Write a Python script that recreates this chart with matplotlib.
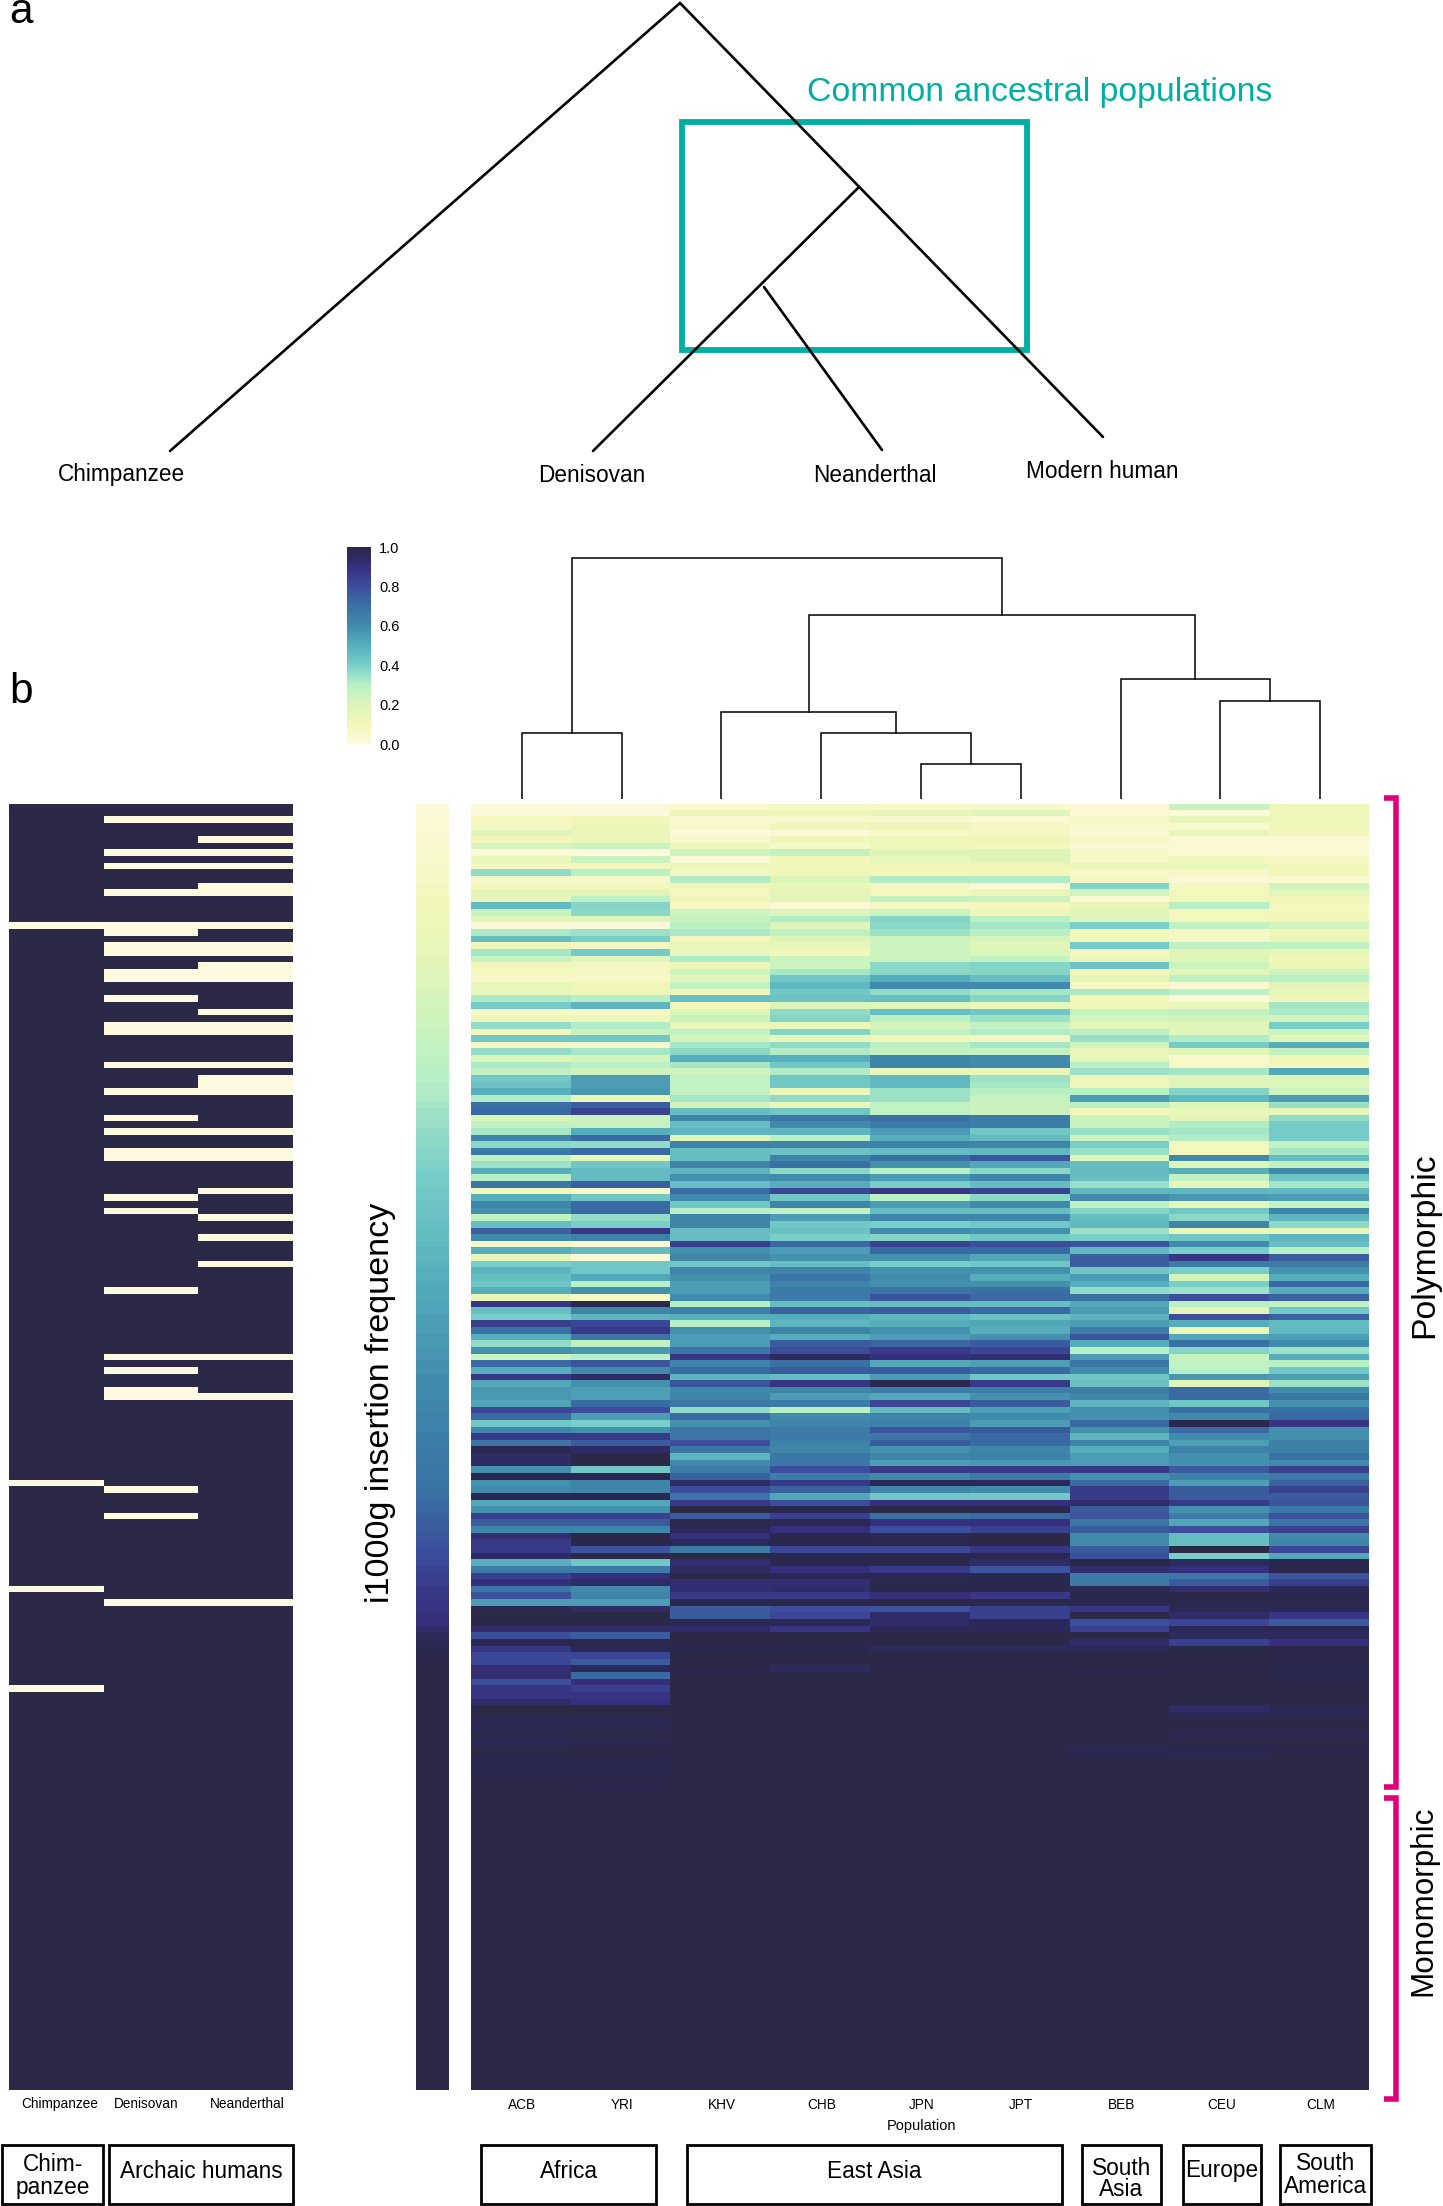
import numpy as np
import matplotlib
matplotlib.use('Agg')
import matplotlib.pyplot as plt
from matplotlib.colors import LinearSegmentedColormap
from matplotlib.patches import Rectangle

plt.rcParams['font.family'] = ['Liberation Sans', 'DejaVu Sans']

W, H = 1443, 2206

populations = ['ACB', 'YRI', 'KHV', 'CHB', 'JPN', 'JPT', 'BEB', 'CEU', 'CLM']
archaic = ['Chimpanzee', 'Denisovan', 'Neanderthal']

# insertion frequency per row, columns in the order of populations
freq_top = [
    [.02, .02, .04, .07, .06, .05, .03, .25, .12],
    [.02, .01, .12, .12, .15, .18, .03, .02, .12],
    [.09, .10, .04, .05, .05, .03, .06, .15, .12],
    [.08, .13, .06, .10, .11, .08, .05, .05, .12],
    [.18, .13, .01, .02, .06, .08, .03, .15, .09],
    [.10, .13, .05, .12, .11, .12, .07, .03, .03],
    [.22, .25, .11, .06, .11, .09, .02, .03, .03],
    [.02, .01, .24, .27, .17, .20, .06, .03, .03],
    [.13, .25, .03, .10, .15, .17, .07, .09, .08],
    [.08, .09, .13, .10, .10, .12, .13, .15, .10],
    [.36, .30, .08, .10, .09, .10, .06, .06, .10],
    [.06, .07, .31, .20, .31, .31, .08, .03, .04],
    [.09, .09, .11, .13, .08, .03, .38, .08, .23],
    [.16, .17, .08, .16, .09, .13, .24, .09, .18],
    [.15, .29, .12, .17, .27, .25, .03, .09, .12],
    [.46, .38, .07, .03, .07, .08, .14, .30, .09],
    [.26, .37, .24, .19, .24, .12, .19, .09, .09],
    [.17, .19, .26, .31, .38, .29, .19, .09, .10],
    [.02, .01, .29, .19, .37, .33, .40, .27, .23],
    [.32, .34, .32, .28, .34, .30, .09, .07, .12],
    [.45, .40, .09, .20, .24, .22, .09, .07, .13],
    [.11, .08, .14, .15, .24, .17, .41, .28, .28],
    [.33, .41, .14, .09, .24, .20, .08, .17, .15],
    [.26, .18, .32, .24, .24, .27, .12, .20, .10],
    [.09, .08, .13, .24, .37, .38, .43, .24, .13],
    [.09, .08, .24, .33, .37, .38, .10, .17, .24],
    [.06, .07, .16, .42, .50, .45, .15, .28, .30],
    [.14, .10, .27, .47, .60, .60, .07, .03, .16],
    [.14, .11, .12, .42, .36, .33, .32, .29, .15],
    [.32, .30, .45, .44, .45, .38, .09, .02, .10],
    [.41, .48, .10, .19, .17, .15, .10, .14, .33],
    [.07, .07, .20, .36, .45, .42, .27, .28, .32],
    [.11, .11, .25, .38, .29, .34, .22, .23, .22],
    [.36, .31, .14, .13, .22, .27, .17, .18, .40],
    [.09, .25, .28, .38, .28, .31, .29, .18, .25],
    [.42, .42, .22, .15, .09, .08, .35, .31, .18],
    [.07, .05, .33, .36, .29, .33, .24, .41, .50],
    [.36, .33, .37, .31, .27, .27, .13, .17, .27],
    [.20, .22, .50, .50, .62, .60, .15, .05, .12],
    [.32, .29, .33, .42, .62, .60, .30, .07, .09],
    [.28, .24, .24, .31, .15, .14, .34, .33, .52],
    [.42, .55, .28, .42, .47, .34, .12, .17, .20],
    [.44, .55, .28, .42, .47, .33, .12, .17, .20],
    [.50, .56, .27, .14, .34, .30, .30, .38, .24],
    [.31, .12, .33, .36, .34, .26, .55, .47, .55],
    [.70, .75, .22, .13, .27, .25, .29, .20, .35],
    [.72, .83, .45, .42, .28, .25, .10, .15, .14],
    [.20, .25, .62, .68, .70, .65, .25, .16, .36],
    [.28, .26, .45, .60, .67, .65, .25, .31, .41],
    [.33, .50, .48, .48, .55, .42, .35, .33, .41],
    [.62, .72, .17, .29, .50, .46, .24, .31, .41],
    [.37, .36, .63, .63, .63, .62, .40, .09, .27],
    [.67, .72, .45, .44, .46, .47, .35, .09, .33],
    [.28, .15, .45, .62, .70, .78, .20, .60, .45],
    [.34, .42, .62, .70, .58, .52, .45, .20, .27],
    [.50, .46, .48, .37, .30, .37, .46, .50, .60],
    [.30, .46, .58, .60, .55, .62, .45, .28, .43],
    [.68, .75, .45, .50, .40, .45, .35, .15, .33],
]
freq_mid = [
    [.12, .06, .72, .82, .88, .83, .47, .47, .47],
    [.50, .42, .60, .42, .30, .37, .60, .56, .55],
    [.62, .72, .42, .62, .55, .60, .28, .15, .27],
    [.58, .72, .30, .28, .45, .45, .38, .42, .62],
    [.27, .36, .62, .55, .62, .62, .45, .37, .48],
    [.45, .40, .62, .42, .40, .42, .47, .62, .37],
    [.75, .88, .45, .44, .60, .58, .34, .13, .14],
    [.60, .63, .45, .40, .38, .42, .40, .42, .48],
    [.06, .03, .85, .72, .83, .80, .78, .60, .45],
    [.50, .46, .58, .55, .72, .72, .47, .40, .30],
    [.14, .03, .62, .58, .58, .52, .75, .88, .75],
    [.40, .42, .42, .45, .40, .42, .75, .65, .65],
    [.48, .42, .62, .62, .58, .58, .42, .40, .58],
    [.45, .52, .58, .68, .60, .50, .55, .22, .50],
    [.42, .30, .55, .62, .58, .58, .50, .40, .72],
    [.50, .58, .55, .66, .68, .70, .36, .34, .50],
    [.14, .07, .60, .66, .78, .72, .70, .80, .74],
    [.88, .98, .30, .45, .45, .45, .52, .30, .28],
    [.45, .62, .64, .74, .76, .72, .55, .16, .42],
    [.40, .48, .50, .50, .48, .44, .48, .80, .74],
    [.85, .82, .30, .48, .50, .52, .55, .50, .46],
    [.70, .86, .58, .62, .58, .50, .65, .13, .47],
    [.50, .68, .55, .50, .55, .58, .78, .52, .54],
    [.36, .27, .55, .76, .73, .76, .50, .70, .60],
    [.58, .56, .68, .80, .86, .82, .30, .38, .34],
    [.24, .30, .88, .95, .90, .92, .55, .26, .50],
    [.72, .78, .62, .70, .52, .54, .68, .27, .30],
    [.50, .60, .72, .76, .76, .72, .60, .30, .42],
    [.88, .94, .48, .46, .55, .42, .42, .56, .54],
    [.52, .58, .78, .88, .98, .86, .44, .18, .34],
    [.56, .54, .60, .62, .65, .65, .65, .72, .60],
    [.56, .54, .62, .55, .52, .58, .62, .72, .68],
    [.53, .72, .68, .66, .82, .76, .48, .42, .58],
    [.82, .80, .36, .30, .46, .54, .58, .70, .70],
    [.72, .55, .72, .60, .62, .60, .58, .60, .72],
    [.42, .40, .58, .62, .63, .55, .72, .98, .88],
    [.62, .58, .68, .66, .78, .76, .58, .72, .58],
    [.86, .86, .68, .66, .68, .72, .48, .60, .58],
    [.68, .76, .80, .64, .76, .72, .62, .54, .64],
]
freq_low = [
    [.98, .94, .68, .62, .58, .62, .50, .64, .64],
    [.94, 1.0, .48, .68, .62, .63, .55, .58, .70],
    [.94, 1.0, .60, .68, .54, .56, .55, .58, .60],
    [.58, .42, .65, .80, .86, .86, .86, .76, .84],
    [.98, .98, .74, .65, .60, .66, .58, .64, .66],
    [.58, .62, .94, .86, .96, .96, .72, .54, .74],
    [.60, .62, .80, .74, .62, .60, .86, .76, .84],
    [.98, .98, .68, .52, .42, .42, .86, .76, .76],
    [.52, .52, .86, .80, .90, .90, .93, .86, .78],
    [.58, .58, 1.0, .98, 1.0, .98, .76, .58, .66],
    [.84, .84, .76, .84, .70, .72, .78, .66, .78],
    [.76, .76, 1.0, .97, .90, .90, .68, .52, .68],
    [.62, .62, .96, .90, .80, .84, .76, .80, .84],
    [.92, 1.0, .90, .98, .97, 1.0, .60, .45, .60],
    [.86, .98, .96, .99, .99, 1.0, .60, .45, .62],
    [.86, .78, .66, .82, .82, .88, .76, 1.0, .82],
    [.94, 1.0, 1.0, .98, .99, .98, .80, .40, .52],
    [.50, .42, .92, .99, .98, .93, 1.0, .95, .98],
    [.66, .66, .94, .90, .86, .78, .93, .90, .98],
    [.84, .90, 1.0, .97, .97, .98, .66, .68, .78],
    [.90, .94, .92, .92, .98, .98, .66, .76, .84],
    [.68, .60, .92, .93, .98, .98, .97, .92, .96],
    [.78, .62, .86, .86, .91, .87, .98, 1.0, .98],
    [.55, .55, .98, 1.0, 1.0, .99, .98, .98, .98],
    [.97, .94, .76, .80, .78, .84, .88, .97, .97],
    [1.0, 1.0, .76, .82, .93, .84, 1.0, .93, .88],
    [1.0, 1.0, .97, .97, .93, .96, .80, .82, .76],
    [.93, .93, .93, .88, .96, .96, .84, .97, .97],
    [.80, .76, 1.0, 1.0, 1.0, 1.0, 1.0, .95, .95],
    [.98, .98, 1.0, 1.0, 1.0, 1.0, .93, .84, .90],
    [.88, .97, .98, .98, .95, .95, .96, 1.0, .99],
    [.82, .82, 1.0, 1.0, 1.0, 1.0, 1.0, 1.0, .99],
    [.82, .76, 1.0, 1.0, 1.0, 1.0, 1.0, 1.0, .99],
    [.92, .96, .98, .95, .99, .99, .98, .99, .98],
    [.92, .72, 1.0, 1.0, 1.0, 1.0, 1.0, 1.0, .98],
    [.80, .90, 1.0, 1.0, 1.0, 1.0, 1.0, 1.0, .99],
    [.88, .84, 1.0, 1.0, 1.0, 1.0, 1.0, 1.0, 1.0],
    [.88, .89, 1.0, 1.0, 1.0, 1.0, 1.0, 1.0, 1.0],
    [.94, .90, 1.0, 1.0, 1.0, 1.0, 1.0, 1.0, 1.0],
    [1.0, 1.0, 1.0, 1.0, 1.0, 1.0, 1.0, .94, .97],
    [1.0, 1.0, 1.0, 1.0, 1.0, 1.0, 1.0, .97, .97],
    [.97, .97, 1.0, 1.0, 1.0, 1.0, 1.0, 1.0, 1.0],
    [.97, .97, 1.0, 1.0, 1.0, 1.0, 1.0, 1.0, 1.0],
    [1.0, 1.0, 1.0, 1.0, 1.0, 1.0, 1.0, .97, .97],
    [.96, .97, 1.0, 1.0, 1.0, 1.0, 1.0, 1.0, 1.0],
    [1.0, 1.0, 1.0, 1.0, 1.0, 1.0, .97, .98, .98],
    [1.0, 1.0, 1.0, 1.0, 1.0, 1.0, .98, .97, 1.0],
    [.98, .98, 1.0, 1.0, 1.0, 1.0, 1.0, 1.0, 1.0],
    [.98, .98, 1.0, 1.0, 1.0, 1.0, 1.0, 1.0, 1.0],
    [.98, .98, 1.0, 1.0, 1.0, 1.0, 1.0, 1.0, 1.0],
    [.99, .99, 1.0, 1.0, 1.0, 1.0, 1.0, 1.0, 1.0],
    [1.0, .98, 1.0, 1.0, 1.0, 1.0, 1.0, 1.0, 1.0],
]
n_monomorphic = 45

# row means shown in the narrow strip
freq_mean = [
    .02, .02, .03, .03, .03, .04, .04, .05, .05, .06,
    .06, .07, .08, .09, .10, .11, .11, .12, .12, .13,
    .14, .15, .15, .16, .17, .18, .19, .20, .21, .22,
    .22, .23, .24, .24, .25, .26, .27, .28, .28, .29,
    .30, .30, .31, .31, .32, .33, .34, .34, .35, .36,
    .37, .37, .38, .38, .39, .40, .41, .41, .42, .42,
    .43, .44, .44, .45, .46, .46, .47, .48, .48, .49,
    .50, .50, .51, .52, .52, .53, .53, .54, .54, .55,
    .56, .56, .57, .57, .58, .58, .59, .59, .60, .60,
    .61, .62, .63, .63, .64, .65, .65, .66, .66, .67,
    .68, .68, .69, .70, .71, .72, .73, .74, .75, .76,
    .77, .78, .79, .80, .81, .83, .84, .85, .86, .87,
    .88, .89, .90, .91, .93, .95, .97, .98, .99, .99,
] + [1.0] * 64

# rows where the insertion is absent from the archaic genomes
chimp_absent = [18, 102, 118, 133]
denisovan_absent = [2, 7, 9, 13, 18, 19, 21, 22, 25, 26, 29, 33, 34, 39, 43, 47, 49, 52, 53,
                    59, 61, 73, 83, 85, 88, 89, 103, 107, 120]
neanderthal_absent = [2, 5, 7, 9, 12, 13, 18, 21, 22, 24, 25, 26, 31, 33, 34, 39, 41, 42, 43,
                      49, 52, 53, 58, 62, 65, 69, 83, 89, 120]

# dendrogram merges: left child, right child, height
merges = [(0, 1, 66), (4, 5, 35), (3, 10, 66), (2, 11, 87), (7, 8, 98), (6, 13, 120),
          (12, 14, 184), (9, 15, 241)]

# panel a tree as segments between named nodes
tree_nodes = {'root': (680, 3), 'chimp': (170, 451), 'human': (1103, 437), 'anc': (859, 187),
              'deni': (593, 451), 'split': (764, 287), 'nean': (882, 450)}
tree_edges = [('root', 'chimp'), ('root', 'human'), ('anc', 'deni'), ('split', 'nean')]
tree_labels = [('Chimpanzee', 121, 475), ('Denisovan', 592, 475), ('Neanderthal', 875, 475),
               ('Modern human', 1102, 471)]

# group boxes under the heatmaps: label, left, right, label centre, line spacing
groups = [('Chim-\npanzee', 2, 103, 2176, 1.05), ('Archaic humans', 109, 293, 2171, 1.0),
          ('Africa', 481, 656, 2171, 1.0), ('East Asia', 687, 1062, 2171, 1.0),
          ('South\nAsia', 1082, 1161, 2179, 0.93), ('Europe', 1183, 1261, 2171, 1.0),
          ('South\nAmerica', 1280, 1371, 2175, 1.05)]

cmap = LinearSegmentedColormap.from_list('ins', [
    (0.0, '#FEFADF'), (0.1, '#F2F7B9'), (0.2, '#DCF5B9'), (0.3, '#B8F0C6'), (0.4, '#78CEC8'),
    (0.5, '#57AFBE'), (0.6, '#408AAB'), (0.7, '#3A72A5'), (0.8, '#3C4D9C'), (0.9, '#37307F'),
    (0.96, '#2C2A5A'), (1.0, '#2B2848')])


def px_axes(x0, y0, x1, y1):
    return fig.add_axes([x0 / W, 1 - y1 / H, (x1 - x0) / W, (y1 - y0) / H])


fig = plt.figure(figsize=(W / 100, H / 100), dpi=100)

freq = np.array(freq_top + freq_mid + freq_low + [[1.0] * 9] * n_monomorphic)
n_rows = len(freq)

# archaic presence table
present = np.ones((n_rows, 3))
present[chimp_absent, 0] = 0
present[denisovan_absent, 1] = 0
present[neanderthal_absent, 2] = 0

top, bottom = 804, 2090
ax_left = px_axes(9, top, 293, bottom)
ax_left.imshow(present, cmap=cmap, vmin=0, vmax=1, aspect='auto', interpolation='nearest')
ax_left.axis('off')

ax_strip = px_axes(416, top, 449, bottom)
ax_strip.imshow(np.array(freq_mean).reshape(-1, 1), cmap=cmap, vmin=0, vmax=1, aspect='auto',
                interpolation='nearest')
ax_strip.axis('off')

ax_heat = px_axes(471, top, 1369, bottom)
im = ax_heat.imshow(freq, cmap=cmap, vmin=0, vmax=1, aspect='auto', interpolation='nearest')
ax_heat.axis('off')

cax = px_axes(347, 547, 371, 744)
cb = fig.colorbar(im, cax=cax)
cb.outline.set_visible(False)
cb.set_ticks([0, .2, .4, .6, .8, 1.0])
cb.ax.tick_params(length=0, labelsize=10.5, pad=6)

# dendrogram, sharing the x positions of the heatmap columns
ax_den = px_axes(472, 540, 1370, 799)
ax_den.set_xlim(-0.5, 8.5)
ax_den.set_ylim(0, 259)
ax_den.axis('off')
pos = [(float(i), 0.0) for i in range(len(populations))]
for a, b, h in merges:
    xa, ya = pos[a]
    xb, yb = pos[b]
    ax_den.plot([xa, xa, xb, xb], [ya, h, h, yb], color='black', lw=1.1, solid_joinstyle='miter')
    pos.append(((xa + xb) / 2, h))

# everything placed in page pixels goes on one overlay
ov = fig.add_axes([0, 0, 1, 1], facecolor='none')
ov.set_xlim(0, W)
ov.set_ylim(H, 0)
ov.axis('off')

for a, b in tree_edges:
    ov.plot([tree_nodes[a][0], tree_nodes[b][0]], [tree_nodes[a][1], tree_nodes[b][1]],
            color='black', lw=1.9, solid_capstyle='round')
for name, x, y in tree_labels:
    ov.text(x, y, name, fontsize=16.3, ha='center', va='center')

ov.add_patch(Rectangle((682, 122), 345, 228, fill=False, ec='#00AFA3', lw=4.2))
ov.text(807, 93, 'Common ancestral populations', color='#00AFA3', fontsize=24.3, ha='left', va='center')
ov.text(9, 23, 'a', fontsize=30.5, ha='left', va='baseline')
ov.text(9, 703, 'b', fontsize=30.5, ha='left', va='baseline')

for name, x in zip(archaic, [60, 146, 247]):
    ov.text(x, 2104, name, fontsize=9.8, ha='center', va='center')
for i, name in enumerate(populations):
    ov.text(472 + (i + 0.5) * 899 / 9, 2105, name, fontsize=9.8, ha='center', va='center')
ov.text(921, 2126, 'Population', fontsize=10.5, ha='center', va='center')

for name, x0, x1, y, spacing in groups:
    ov.add_patch(Rectangle((x0, 2145), x1 - x0, 59, fill=False, ec='black', lw=2))
    ov.text((x0 + x1) / 2, y, name, fontsize=16.3, ha='center', va='center', linespacing=spacing)

ov.text(380, 1403, 'i1000g insertion frequency', fontsize=24.6, rotation=90, ha='center', va='center')
ov.text(1425, 1245, 'Polymorphic', fontsize=24.3, rotation=90, ha='center', va='center')
ov.text(1423, 1901, 'Monomorphic', fontsize=22.6, rotation=90, ha='center', va='center')

for y0, y1 in [(798, 1787), (1798, 2099)]:
    ov.plot([1384, 1396, 1396, 1384], [y0, y0, y1, y1], color='#E2007A', lw=4,
            solid_joinstyle='miter', solid_capstyle='butt')

fig.savefig('out.png', dpi=100)
